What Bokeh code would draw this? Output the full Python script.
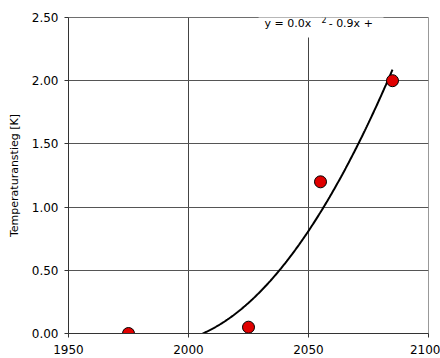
import numpy as np
from bokeh.plotting import figure
from bokeh.models import Label, FixedTicker, CustomJSTickFormatter, Span, BoxAnnotation
from bokeh.embed import file_html
from bokeh.resources import INLINE

# Measured warming by year
years = [1975, 2025, 2055, 2085]
rise = [0.0, 0.05, 1.2, 2.0]

x_ticks = [1950, 2000, 2050, 2100]
y_ticks = [0.0, 0.5, 1.0, 1.5, 2.0, 2.5]

FONT = "DejaVu Sans"

p = figure(width=440, height=358, x_range=(1950, 2100), y_range=(0, 2.5),
           output_backend="svg", toolbar_location=None,
           min_border_left=68, min_border_right=12, min_border_top=17, min_border_bottom=25)
p.background_fill_color = "white"
p.border_fill_color = "white"
p.outline_line_color = "#999999"

# axes
p.xaxis.ticker = FixedTicker(ticks=x_ticks)
p.yaxis.ticker = FixedTicker(ticks=y_ticks)
p.yaxis.formatter = CustomJSTickFormatter(code="return tick.toFixed(2);")
p.xaxis.formatter = CustomJSTickFormatter(code="return tick.toFixed(0);")
for ax in (p.xaxis, p.yaxis):
    ax.axis_line_color = "#333333"
    ax.major_tick_line_color = "#333333"
    ax.major_tick_out = 4
    ax.major_tick_in = 0
    ax.minor_tick_line_color = None
    ax.major_label_text_font = FONT
    ax.major_label_text_font_size = "12px"
    ax.major_label_text_color = "black"
p.xaxis.major_label_standoff = 7
p.yaxis.major_label_standoff = 6
p.yaxis.axis_label = "Temperaturanstieg [K]"
p.yaxis.axis_label_text_font = FONT
p.yaxis.axis_label_text_font_size = "11px"
p.yaxis.axis_label_text_font_style = "normal"
p.yaxis.axis_label_text_color = "black"
p.yaxis.axis_label_standoff = 8

p.xgrid.grid_line_color = "#444444"
p.ygrid.grid_line_color = "#555555"

p.add_layout(Span(location=2.5, dimension="width", line_color="#444444", line_width=1))

# quadratic trend line through the measurements
coef = np.polyfit(years, rise, 2)
roots = np.roots(coef)
start = max(r.real for r in roots if r.real < years[-1])
xs = np.linspace(start, years[-1], 200)
p.line(xs, np.polyval(coef, xs), line_color="black", line_width=2)

p.scatter(years, rise, size=12, fill_color="#e00000", line_color="black", line_width=1)

# trend equation on a white patch over the top border
p.add_layout(BoxAnnotation(left=2029.2, right=2081.25, bottom=2.342, top=2.56,
                           fill_color="white", fill_alpha=1.0, line_color=None,
                           level="overlay"))
p.add_layout(Label(x=2031.7, y=2.4525, text="y = 0.0x", text_font=FONT,
                   text_font_size="11px", text_baseline="middle", text_color="black",
                   level="overlay"))
p.add_layout(Label(x=2055.4, y=2.484, text="2", text_font=FONT, text_font_size="8px",
                   text_baseline="middle", text_color="black", level="overlay"))
p.add_layout(Label(x=2058.4, y=2.4525, text="- 0.9x +", text_font=FONT,
                   text_font_size="11px", text_baseline="middle", text_color="black",
                   level="overlay"))

open("out.html", "w").write(file_html(p, INLINE))
